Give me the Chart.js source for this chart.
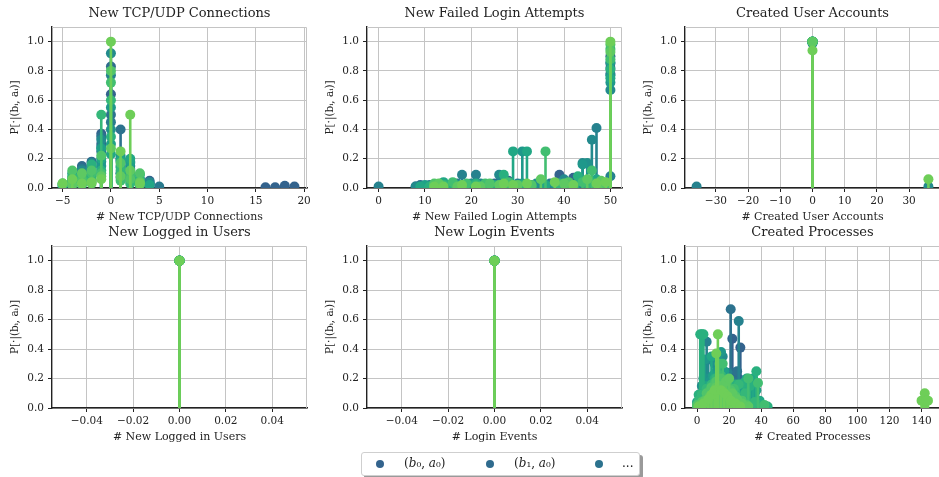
<!DOCTYPE html>
<html>
<head>
<meta charset="utf-8">
<script src="https://cdn.jsdelivr.net/npm/chart.js@4.4.1/dist/chart.umd.min.js"></script>
<style>
  html, body { margin: 0; padding: 0; background: #fff; width: 939px; height: 477px; overflow: hidden; }
  canvas { position: absolute; }
  #legend { position: absolute; left: 361px; top: 452px; width: 277px; height: 22px;
    border: 1px solid #cfcfcf; border-radius: 3px; background: #fff; box-shadow: 3px 3px 0 #9a9a9a;
    font-family: 'DejaVu Serif', serif; font-size: 12px; color: #222; }
  #legend .dot { position: absolute; top: 7px; width: 8px; height: 8px; border-radius: 50%; }
  #legend .lab { position: absolute; top: 3px; white-space: nowrap; }
</style>
</head>
<body>
<canvas id="c0"></canvas>
<canvas id="c1"></canvas>
<canvas id="c2"></canvas>
<canvas id="c3"></canvas>
<canvas id="c4"></canvas>
<canvas id="c5"></canvas>
<div id="legend"></div>
<script>
// one colour per (b_i, a_j) series, dark blue -> light green
const seriesColors = ['#33638d', '#2f6b8e', '#2c728e', '#297a8e', '#26828e', '#238a8d', '#21918c', '#1f988b',
  '#1fa088', '#22a785', '#2ab07f', '#35b779', '#42be71', '#50c46a', '#5ec962', '#6ece58'];
const legendLabels = ['(<i>b</i>₀, <i>a</i>₀)', '(<i>b</i>₁, <i>a</i>₀)', '...'];
const yLabel = 'P[·|(bᵢ, aᵢ)]';

// [x, P] pairs, one list per series
const tcpPoints = [
  [[-3, 0.03], [-2, 0.05], [-1, 0.37], [0, 0.64], [1, 0.1], [2, 0.05], [4, 0.05], [16, 0.005], [17, 0.005], [18, 0.015], [19, 0.01]],
  [[-4, 0.03], [-3, 0.15], [-2, 0.18], [-1, 0.3], [0, 0.83], [1, 0.2], [2, 0.1], [3, 0.02], [4, 0.03]],
  [[-4, 0.06], [-3, 0.1], [-2, 0.15], [-1, 0.35], [0, 0.5], [1, 0.4], [2, 0.15], [3, 0.05], [4, 0.02]],
  [[-5, 0.02], [-4, 0.05], [-3, 0.13], [-2, 0.1], [-1, 0.25], [0, 0.45], [1, 0.07], [2, 0.18], [3, 0.03], [5, 0.01]],
  [[-4, 0.02], [-3, 0.06], [-2, 0.17], [-1, 0.28], [0, 0.77], [1, 0.15], [2, 0.08], [3, 0.06], [4, 0.03]],
  [[-3, 0.12], [-2, 0.09], [-1, 0.33], [0, 0.92], [1, 0.18], [2, 0.13], [4, 0.04]],
  [[-4, 0.04], [-3, 0.09], [-2, 0.14], [-1, 0.18], [0, 0.4], [1, 0.2], [2, 0.1], [3, 0.02]],
  [[-5, 0.01], [-4, 0.1], [-3, 0.08], [-2, 0.13], [-1, 0.15], [0, 0.55], [1, 0.22], [2, 0.12], [3, 0.04]],
  [[-4, 0.03], [-3, 0.05], [-2, 0.11], [-1, 0.27], [0, 0.3], [1, 0.1], [2, 0.17], [3, 0.05]],
  [[-4, 0.04], [-3, 0.04], [-2, 0.08], [-1, 0.2], [0, 0.23], [1, 0.19], [2, 0.2], [3, 0.09], [4, 0.02]],
  [[-5, 0.02], [-4, 0.07], [-3, 0.06], [-2, 0.16], [-1, 0.12], [0, 0.35], [1, 0.14], [2, 0.07], [3, 0.03]],
  [[-5, 0.03], [-4, 0.08], [-3, 0.02], [-2, 0.06], [-1, 0.5], [0, 0.6], [1, 0.12], [2, 0.03], [3, 0.06]],
  [[-4, 0.05], [-3, 0.07], [-2, 0.1], [-1, 0.1], [0, 0.72], [1, 0.05], [2, 0.09], [3, 0.02]],
  [[-4, 0.12], [-3, 0.05], [-2, 0.12], [-1, 0.22], [0, 0.8], [1, 0.17], [2, 0.06], [3, 0.1]],
  [[-5, 0.03], [-4, 0.02], [-3, 0.1], [-2, 0.03], [-1, 0.08], [0, 0.27], [1, 0.08], [2, 0.12], [3, 0.04]],
  [[-5, 0.03], [-4, 0.06], [-3, 0.03], [-2, 0.04], [-1, 0.06], [0, 1.0], [1, 0.25], [2, 0.5], [3, 0.03]],
];

const failPoints = [
  [[8, 0.01], [15, 0.01], [22, 0.02], [28, 0.05], [39, 0.09], [42, 0.07], [45, 0.02], [50, 0.85]],
  [[9, 0.02], [19, 0.01], [25, 0.03], [35, 0.02], [43, 0.02], [50, 0.9]],
  [[10, 0.01], [14, 0.02], [20, 0.01], [26, 0.03], [33, 0.02], [41, 0.03], [44, 0.04], [48, 0.02], [50, 0.78]],
  [[11, 0.02], [17, 0.03], [29, 0.02], [37, 0.03], [46, 0.03], [50, 0.82]],
  [[0, 0.01], [9, 0.01], [12, 0.01], [18, 0.09], [21, 0.09], [24, 0.02], [30, 0.03], [37, 0.02], [43, 0.03], [47, 0.41], [50, 0.08]],
  [[8, 0.01], [11, 0.01], [16, 0.03], [19, 0.02], [22, 0.03], [26, 0.09], [34, 0.02], [40, 0.06], [44, 0.17], [46, 0.33], [49, 0.03], [50, 0.67]],
  [[13, 0.01], [20, 0.03], [28, 0.02], [34, 0.03], [45, 0.17], [50, 0.77]],
  [[10, 0.01], [13, 0.02], [17, 0.02], [23, 0.02], [27, 0.03], [31, 0.25], [38, 0.03], [44, 0.16], [48, 0.04], [50, 0.72]],
  [[10, 0.02], [16, 0.01], [23, 0.01], [31, 0.03], [40, 0.02], [47, 0.05], [50, 0.86]],
  [[9, 0.01], [14, 0.04], [20, 0.02], [25, 0.02], [29, 0.25], [32, 0.25], [36, 0.02], [42, 0.02], [47, 0.06], [50, 0.75]],
  [[11, 0.01], [15, 0.02], [18, 0.02], [21, 0.03], [24, 0.01], [27, 0.09], [31, 0.02], [39, 0.02], [43, 0.08], [46, 0.04], [50, 0.81]],
  [[14, 0.02], [21, 0.02], [30, 0.01], [39, 0.03], [45, 0.03], [50, 0.95]],
  [[12, 0.02], [16, 0.04], [19, 0.03], [23, 0.03], [28, 0.04], [33, 0.01], [36, 0.25], [41, 0.02], [44, 0.04], [46, 0.12], [49, 0.02], [50, 0.88]],
  [[12, 0.03], [18, 0.01], [24, 0.03], [33, 0.02], [41, 0.04], [48, 0.03], [50, 0.98]],
  [[13, 0.03], [17, 0.01], [22, 0.01], [26, 0.02], [30, 0.02], [35, 0.06], [40, 0.03], [45, 0.06], [48, 0.05], [50, 0.93]],
  [[12, 0.01], [14, 0.01], [18, 0.02], [21, 0.01], [27, 0.03], [29, 0.02], [32, 0.03], [38, 0.04], [42, 0.02], [47, 0.03], [49, 0.04], [50, 1.0]],
];

const userPoints = [
  [[0, 1.0]], [[0, 1.0]], [[0, 1.0]], [[0, 1.0]], [[-36, 0.01], [0, 0.99]], [[0, 0.99], [36, 0.01]],
  [[0, 1.0]], [[0, 1.0]], [[0, 1.0]], [[0, 1.0]], [[0, 1.0]], [[0, 1.0]], [[0, 1.0]], [[0, 1.0]], [[0, 1.0]],
  [[0, 0.94], [36, 0.06]],
];

const loggedPoints = seriesColors.map(() => [[0, 1.0]]);
const loginPoints = seriesColors.map(() => [[0, 1.0]]);

const procPoints = [
  [[8, 0.02], [12, 0.05], [15, 0.1], [18, 0.15], [20, 0.2], [22, 0.47], [24, 0.12], [27, 0.41], [30, 0.08], [33, 0.1], [36, 0.03]],
  [[6, 0.06], [10, 0.1], [14, 0.08], [19, 0.14], [23, 0.24], [26, 0.2], [29, 0.07], [33, 0.09], [37, 0.03]],
  [[5, 0.03], [9, 0.08], [13, 0.12], [17, 0.2], [21, 0.67], [23, 0.18], [25, 0.25], [28, 0.1], [31, 0.05], [34, 0.1], [38, 0.02]],
  [[2, 0.04], [5, 0.1], [9, 0.18], [13, 0.22], [17, 0.1], [21, 0.18], [25, 0.08], [30, 0.05], [34, 0.04], [39, 0.01]],
  [[3, 0.05], [6, 0.45], [10, 0.15], [14, 0.2], [19, 0.24], [23, 0.1], [26, 0.59], [29, 0.15], [32, 0.06], [35, 0.08], [40, 0.02]],
  [[1, 0.03], [4, 0.2], [7, 0.33], [11, 0.3], [16, 0.35], [20, 0.1], [24, 0.05], [28, 0.15], [33, 0.03], [42, 0.01]],
  [[1, 0.02], [3, 0.15], [6, 0.2], [9, 0.12], [12, 0.3], [16, 0.2], [20, 0.12], [25, 0.1], [31, 0.08], [35, 0.05], [40, 0.01]],
  [[0, 0.02], [3, 0.1], [5, 0.33], [8, 0.18], [12, 0.25], [15, 0.38], [18, 0.12], [22, 0.08], [30, 0.12], [36, 0.1], [41, 0.01]],
  [[0, 0.04], [4, 0.08], [7, 0.14], [10, 0.22], [13, 0.18], [17, 0.25], [21, 0.09], [27, 0.12], [33, 0.18], [37, 0.12], [43, 0.01]],
  [[2, 0.08], [5, 0.15], [9, 0.35], [13, 0.2], [17, 0.15], [21, 0.06], [26, 0.04], [31, 0.2], [35, 0.2], [39, 0.05], [43, 0.01]],
  [[1, 0.09], [2, 0.5], [3, 0.5], [4, 0.5], [7, 0.1], [11, 0.2], [14, 0.15], [19, 0.1], [24, 0.16], [29, 0.17], [33, 0.15], [37, 0.25], [40, 0.02], [44, 0.01]],
  [[1, 0.05], [3, 0.09], [6, 0.13], [9, 0.16], [12, 0.2], [15, 0.22], [18, 0.16], [22, 0.13], [26, 0.16], [30, 0.1], [36, 0.04], [41, 0.01]],
  [[0, 0.01], [4, 0.05], [8, 0.12], [11, 0.17], [14, 0.3], [16, 0.3], [19, 0.15], [23, 0.13], [27, 0.05], [32, 0.2], [38, 0.17], [42, 0.02]],
  [[0, 0.02], [3, 0.04], [6, 0.1], [9, 0.14], [12, 0.18], [15, 0.2], [18, 0.15], [21, 0.12], [24, 0.08], [28, 0.05], [31, 0.02]],
  [[2, 0.02], [5, 0.05], [8, 0.08], [10, 0.1], [12, 0.14], [14, 0.15], [16, 0.12], [18, 0.18], [20, 0.2], [22, 0.1], [25, 0.06], [28, 0.03], [32, 0.01]],
  [[1, 0.01], [4, 0.03], [7, 0.06], [9, 0.09], [11, 0.12], [12, 0.37], [13, 0.5], [15, 0.12], [17, 0.1], [19, 0.08], [21, 0.05], [24, 0.03], [27, 0.01],
   [140, 0.05], [141, 0.05], [142, 0.1], [143, 0.05], [144, 0.05]],
];

const FONT = 'DejaVu Serif';
const GRID = '#c4c4c4';
const AX_W = 255, Y_W = 52, TITLE_H = 27, X_H = 40, PAD_R = 24;

// light frame on top/right, and vertical stems from 0 drawn just before each series' markers
const stemPlugin = {
  id: 'stems',
  beforeDatasetsDraw(chart) {
    const { ctx, chartArea: a } = chart;
    ctx.save();
    ctx.strokeStyle = GRID;
    ctx.lineWidth = 1;
    ctx.beginPath();
    ctx.moveTo(a.left, a.top + 0.5);
    ctx.lineTo(a.right - 0.5, a.top + 0.5);
    ctx.lineTo(a.right - 0.5, a.bottom);
    ctx.stroke();
    ctx.restore();
  },
  beforeDatasetDraw(chart, args) {
    const ctx = chart.ctx;
    const y0 = chart.scales.y.getPixelForValue(0);
    const a = chart.chartArea;
    ctx.save();
    ctx.beginPath();
    ctx.rect(a.left, a.top, a.right - a.left, a.bottom - a.top);
    ctx.clip();
    ctx.strokeStyle = chart.data.datasets[args.index].borderColor;
    ctx.lineWidth = 2.6;
    ctx.beginPath();
    args.meta.data.forEach(p => {
      ctx.moveTo(p.x, y0);
      ctx.lineTo(p.x, p.y);
    });
    ctx.stroke();
    ctx.restore();
  },
};

function fmt(v, dec) {
  if (Math.abs(v) < 1e-9) v = 0;
  return v.toFixed(dec).replace('-', '\u2212');
}

function makeStemChart(id, axLeft, top, axH, title, xLabel, points, xMin, xMax, xStep, xDec) {
  const cv = document.getElementById(id);
  cv.width = Y_W + AX_W + PAD_R;
  cv.height = TITLE_H + axH + X_H;
  cv.style.left = (axLeft - Y_W) + 'px';
  cv.style.top = top + 'px';

  // later series are drawn on top
  const datasets = points.map((pts, i) => ({
    data: pts.map(p => ({ x: p[0], y: p[1] })),
    backgroundColor: seriesColors[i],
    borderColor: seriesColors[i],
    pointRadius: 5,
    pointHoverRadius: 5,
    pointBorderWidth: 0,
    order: points.length - i,
  }));

  new Chart(cv, {
    type: 'scatter',
    data: { datasets },
    plugins: [stemPlugin],
    options: {
      responsive: false,
      animation: false,
      layout: { padding: { left: 0, top: 0, right: PAD_R, bottom: 0 } },
      plugins: {
        legend: { display: false },
        tooltip: { enabled: false },
        title: {
          display: true,
          text: title,
          fullSize: false,
          color: '#222',
          font: { family: FONT, size: 13, weight: 'normal' },
          padding: { top: 5.5, bottom: 5.9 },
        },
      },
      scales: {
        x: {
          type: 'linear',
          min: xMin,
          max: xMax,
          afterFit: s => { s.height = X_H; },
          grid: { color: GRID, lineWidth: 1, tickColor: '#222', tickLength: 4 },
          border: { color: '#222', width: 1.4 },
          ticks: {
            stepSize: xStep,
            includeBounds: false,
            maxRotation: 0,
            padding: 3,
            color: '#222',
            font: { family: FONT, size: 10.5 },
            callback: v => fmt(v, xDec),
          },
          title: {
            display: true,
            text: xLabel,
            color: '#222',
            font: { family: FONT, size: 11 },
            padding: { top: 0, bottom: 4.4 },
          },
        },
        y: {
          min: 0,
          max: 1.1,
          afterFit: s => { s.width = Y_W; },
          grid: { color: GRID, lineWidth: 1, tickColor: '#222', tickLength: 4 },
          border: { color: '#222', width: 1.4 },
          ticks: {
            stepSize: 0.2,
            includeBounds: false,
            padding: 4,
            color: '#222',
            font: { family: FONT, size: 10.5 },
            callback: v => fmt(v, 1),
          },
          title: {
            display: true,
            text: yLabel,
            color: '#222',
            font: { family: FONT, size: 10.5 },
            padding: { top: 8.7, bottom: 0 },
          },
        },
      },
    },
  });
}

const colLeft = [52, 367, 685];
const rowTop = [0, 219];
const rowAxH = [161, 162];

makeStemChart('c0', colLeft[0], rowTop[0], rowAxH[0], 'New TCP/UDP Connections', '# New TCP/UDP Connections', tcpPoints, -6.1, 20.3, 5, 0);
makeStemChart('c1', colLeft[1], rowTop[0], rowAxH[0], 'New Failed Login Attempts', '# New Failed Login Attempts', failPoints, -2.5, 52.5, 10, 0);
makeStemChart('c2', colLeft[2], rowTop[0], rowAxH[0], 'Created User Accounts', '# Created User Accounts', userPoints, -39.6, 39.6, 10, 0);
makeStemChart('c3', colLeft[0], rowTop[1], rowAxH[1], 'New Logged in Users', '# New Logged in Users', loggedPoints, -0.055, 0.055, 0.02, 2);
makeStemChart('c4', colLeft[1], rowTop[1], rowAxH[1], 'New Login Events', '# Login Events', loginPoints, -0.055, 0.055, 0.02, 2);
makeStemChart('c5', colLeft[2], rowTop[1], rowAxH[1], 'Created Processes', '# Created Processes', procPoints, -7.5, 151.5, 20, 0);

// figure legend (first entries only, as in the original)
const legend = document.getElementById('legend');
const dotX = [14, 124, 233];
const labX = [42, 152, 260];
legendLabels.forEach((lab, i) => {
  const d = document.createElement('span');
  d.className = 'dot';
  d.style.left = dotX[i] + 'px';
  d.style.background = seriesColors[i];
  legend.appendChild(d);
  const t = document.createElement('span');
  t.className = 'lab';
  t.style.left = labX[i] + 'px';
  t.innerHTML = lab;
  legend.appendChild(t);
});
</script>
</body>
</html>
